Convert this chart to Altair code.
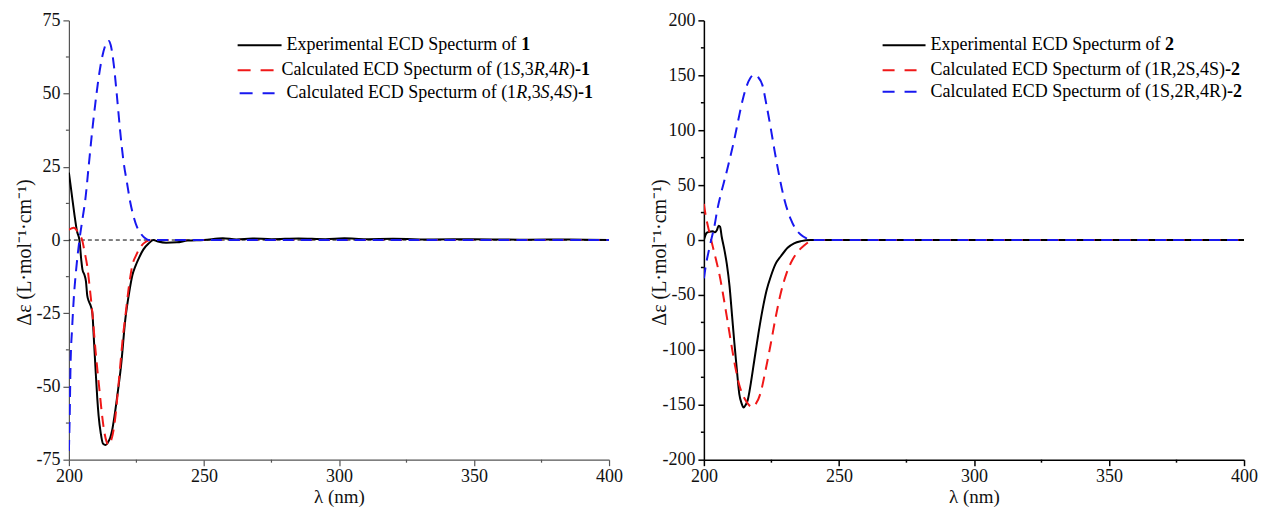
import altair as alt
import pandas as pd

FONT = "Liberation Serif"

# ---------------- Panel 1 data (compound 1) ----------------
wl1_exp = [200, 201, 202, 203, 203.9, 204.6, 205.0, 205.8, 206.3, 206.8, 207.4, 208.1, 208.7,
           209.2, 209.8, 210.5, 211.0, 211.8, 212.6, 213.6, 214.5, 215.3, 216.0, 216.9, 217.8,
           219.3, 220.9, 222.3, 223.5, 224.6, 226.0, 227.6, 229.5, 231.3, 233, 236, 240, 244,
           250, 257, 262, 268, 275, 285, 295, 302, 310, 320, 335, 350, 370, 385, 400]
val1_exp = [23, 16, 9, 3, 0, -7, -10, -12, -14, -19, -21, -22.5, -25,
            -33, -43, -54, -60, -66, -69.5, -70, -69, -67.5, -65, -60, -54,
            -43, -27, -18, -12, -9, -6, -3.2, -1.2, 0, -0.5, -0.9, -0.8, -0.2,
            0, 0.6, 0.2, 0.5, 0.3, 0.5, 0.3, 0.6, 0.3, 0.4, 0.2, 0.3, 0.1, 0.2, 0]

wl1_red = [200, 201, 201.8, 202.8, 203.8, 204.9, 205.8, 206.8, 207.8, 208.8, 209.6, 210.4,
           211.4, 212.3, 213.2, 214.0, 214.7, 215.4, 216.3, 217.2, 218.1, 219.0, 220.0,
           220.9, 222.2, 223.4, 225.0, 226.8, 228.5, 230, 250, 275, 300, 325, 350, 375, 400]
val1_red = [3.5, 4, 4.2, 3.5, 1.8, 0, -4, -9, -17, -26, -35, -43,
            -52, -60, -66, -69, -70, -69, -66, -60.5, -52, -43, -33,
            -26, -16, -9, -5, -2, -0.6, 0, 0, 0, 0, 0, 0, 0, 0]

wl1_blue = [200, 200.3, 200.6, 201.2, 201.8, 202.8, 203.9, 205, 206.1, 207.3, 208.6, 209.7,
            210.8, 212.0, 213.5, 214.2, 214.8, 215.5, 216.6, 217.8, 219.0, 220.2, 221.5, 222.7,
            223.9, 225.2, 226.4, 228, 229.5, 250, 275, 300, 325, 350, 375, 400]
val1_blue = [-72, -60, -43, -30, -20, -9, 0, 7, 14, 25, 37, 46,
             54, 61, 66.5, 67.8, 68, 66.5, 60, 49, 37, 27, 19.6, 13,
             8.2, 4.5, 2.5, 0.8, 0, 0, 0, 0, 0, 0, 0, 0]

# ---------------- Panel 2 data (compound 2) ----------------
wl2_exp = [200, 200.5, 201, 202, 203.3, 204.0, 204.8, 205.5, 206, 206.6, 207.6, 208.5, 209.5,
           210.4, 211.3, 212.2, 213.1, 214, 214.7, 215.5, 216.2, 217.4, 218.7, 220.2, 221.7,
           223.2, 224.8, 226.5, 228.5, 231, 233.4, 236, 239.5, 260, 280, 300, 330, 360, 400]
val2_exp = [0, 4, 6.5, 7.5, 8, 7, 9, 13, 12, 3, -9, -22, -42,
            -68, -94, -118, -140, -149, -152.5, -150, -146, -130, -109, -85, -63.6,
            -46, -33, -22, -14.8, -7, -3, -1, 0, 0, 0, 0, 0, 0, 0]

wl2_red = [200, 200.7, 201.5, 202.7, 203.6, 204.5, 205.8, 207.0, 208.5, 210.1, 211.5, 213,
           214.4, 216, 217.3, 218.0, 219, 220.9, 222.8, 224.8, 226.6, 228.5, 230.5, 232.8,
           235, 237.1, 239, 240.6, 260, 280, 300, 325, 350, 375, 400]
val2_red = [33, 22, 12.6, 0, -9, -18, -32, -48, -70, -94, -114, -131,
            -141, -148, -151.5, -152, -150, -140, -119, -94, -70, -48, -31, -18,
            -10, -5, -1.5, 0, 0, 0, 0, 0, 0, 0, 0]

wl2_blue = [200, 200.8, 201.8, 202.7, 203.9, 205, 206.4, 208, 209.6, 211.3, 212.8, 214.4,
            215.8, 217.2, 218.7, 220, 221.7, 223.1, 224.6, 226.2, 227.9, 229.9, 232.2, 234,
            235.8, 238, 240, 260, 280, 300, 325, 350, 375, 400]
val2_blue = [-35, -22, -10, 0, 12.6, 28, 43, 58, 74, 92, 110, 128,
             140, 147.5, 150.6, 148.5, 140.8, 124, 104, 81, 58.4, 36, 18.8, 10,
             5, 1.5, 0, 0, 0, 0, 0, 0, 0, 0]

x_major = [200, 250, 300, 350, 400]
x_minor = [225, 275, 325, 375]
y1_major = [-75, -50, -25, 0, 25, 50, 75]
y1_minor = [-62.5, -37.5, -12.5, 12.5, 37.5, 62.5]
y2_major = [-200, -150, -100, -50, 0, 50, 100, 150, 200]
y2_minor = [-175, -125, -75, -25, 25, 75, 125, 175]

X_TITLE = "λ (nm)"
Y_TITLE = "Δε (L·mol⁻¹·cm⁻¹)"

legend1 = [
    [("Experimental ECD Specturm of ", "n"), ("1", "b")],
    [("Calculated ECD Specturm of (1", "n"), ("S", "i"), (",3", "n"), ("R", "i"),
     (",4", "n"), ("R", "i"), (")", "n"), ("-1", "b")],
    [("Calculated ECD Specturm of (1", "n"), ("R", "i"), (",3", "n"), ("S", "i"),
     (",4", "n"), ("S", "i"), (")", "n"), ("-1", "b")],
]
legend2 = [
    [("Experimental ECD Specturm of ", "n"), ("2", "b")],
    [("Calculated ECD Specturm of (1R,2S,4S)", "n"), ("-2", "b")],
    [("Calculated ECD Specturm of (1S,2R,4R)", "n"), ("-2", "b")],
]

BLACK = "#000000"
RED = "#f01818"
BLUE = "#1818f0"
TXT = "#111111"
CURVE_DASH = [11, 7]
W, H = 541, 440

# Times / Liberation Serif advance widths (per 1000 em)
W_N = {' ': 250, '(': 333, ')': 333, ',': 250, '-': 333, 'A': 722, 'C': 667, 'D': 722,
       'E': 611, 'R': 667, 'S': 556, 'a': 444, 'c': 444, 'd': 500, 'e': 444, 'f': 333,
       'i': 278, 'l': 278, 'm': 778, 'n': 500, 'o': 500, 'p': 500, 'r': 333, 't': 278,
       'u': 500, 'x': 500}
W_I = {'S': 500, 'R': 611}
W_B = {'-': 333}


def text_width(txt, style, fs):
    tot = 0
    for ch in txt:
        if ch.isdigit():
            tot += 500
        elif style == "i":
            tot += W_I.get(ch, W_N.get(ch, 500))
        elif style == "b":
            tot += W_B.get(ch, W_N.get(ch, 500))
        else:
            tot += W_N.get(ch, 500)
    return tot * fs / 1000.0


def one():
    return pd.DataFrame({"a": [0]})


def legend_layers(rows, samples, text_x, row_y, fs=18):
    layers = []
    for segs, (color, dash, sx1, sx2), tx, ty in zip(rows, samples, text_x, row_y):
        kw = dict(color=color, strokeWidth=2)
        if dash:
            kw["strokeDash"] = dash
        layers.append(alt.Chart(one()).mark_rule(**kw).encode(
            x=alt.value(sx1), x2=alt.value(sx2), y=alt.value(ty)))
        x = tx
        for txt, style in segs:
            mk = dict(text=txt, font=FONT, fontSize=fs, align="left", baseline="middle", color="#000")
            if style == "i":
                mk["fontStyle"] = "italic"
            if style == "b":
                mk["fontWeight"] = "bold"
            layers.append(alt.Chart(one()).mark_text(**mk).encode(
                x=alt.value(x), y=alt.value(ty)))
            x += text_width(txt, style, fs)
    return layers


def panel(series, ydom, ymaj, ymin, axcolor, axwidth, zero_rule, legend, samples, text_x, row_y):
    xs = alt.Scale(domain=[200, 400], nice=False, zero=False)
    ys = alt.Scale(domain=ydom, nice=False, zero=False)
    ax_x = alt.Axis(values=x_major, labelExpr="'' + datum.value", title=X_TITLE,
                    ticks=True, tickSize=6, grid=False, labelFlush=False, labelOverlap=False,
                    labelFont=FONT, labelFontSize=18, labelColor=TXT, labelPadding=2,
                    titleFont=FONT, titleFontSize=19, titleFontWeight="normal", titleColor=TXT,
                    domainColor=axcolor, tickColor=axcolor, domainWidth=axwidth, tickWidth=axwidth,
                    titleBaseline="top", titleY=28)
    ax_y = alt.Axis(values=ymaj, labelExpr="'' + datum.value", title=Y_TITLE,
                    ticks=True, tickSize=6, grid=False, labelFlush=False, labelOverlap=False,
                    labelFont=FONT, labelFontSize=18, labelColor=TXT, labelPadding=3,
                    titleFont=FONT, titleFontSize=20, titleFontWeight="normal", titleColor=TXT,
                    domainColor=axcolor, tickColor=axcolor, domainWidth=axwidth, tickWidth=axwidth,
                    titleX=-34, titleY=232)
    layers = []
    if zero_rule:
        layers.append(alt.Chart(pd.DataFrame({"z": [0]})).mark_rule(
            color="#000", strokeWidth=1, strokeDash=[4, 3]).encode(
            y=alt.Y("z:Q", scale=ys, axis=ax_y)))
    for wl, val, color, dash in series:
        kw = dict(color=color, strokeWidth=2, interpolate="monotone", clip=True)
        if dash:
            kw["strokeDash"] = dash
        df = pd.DataFrame({"wl": wl, "val": val})
        layers.append(alt.Chart(df).mark_line(**kw).encode(
            x=alt.X("wl:Q", scale=xs, axis=ax_x),
            y=alt.Y("val:Q", scale=ys, axis=ax_y)))
    # minor ticks, drawn through the same scales
    layers.append(alt.Chart(pd.DataFrame({"t": ymin})).mark_rule(
        color=axcolor, strokeWidth=axwidth).encode(
        y=alt.Y("t:Q", scale=ys, axis=ax_y), x=alt.value(0), x2=alt.value(-3)))
    layers.append(alt.Chart(pd.DataFrame({"t": x_minor})).mark_rule(
        color=axcolor, strokeWidth=axwidth).encode(
        x=alt.X("t:Q", scale=xs, axis=ax_x), y=alt.value(H), y2=alt.value(H + 3)))
    layers += legend_layers(legend, samples, text_x, row_y)
    return alt.layer(*layers).properties(width=W, height=H)


left = panel(
    [(wl1_exp, val1_exp, BLACK, None), (wl1_red, val1_red, RED, CURVE_DASH),
     (wl1_blue, val1_blue, BLUE, CURVE_DASH)],
    [-75, 75], y1_major, y1_minor, "#555", 1.2, True, legend1,
    [(BLACK, None, 169, 213), (RED, [13, 10], 169, 206), (BLUE, [13, 10], 171, 206)],
    [218, 213, 218], [25, 50, 73])

right = panel(
    [(wl2_exp, val2_exp, BLACK, None), (wl2_red, val2_red, RED, CURVE_DASH),
     (wl2_blue, val2_blue, BLUE, CURVE_DASH)],
    [-200, 200], y2_major, y2_minor, "#000", 1.5, False, legend2,
    [(BLACK, None, 179, 222), (RED, [12, 10], 179, 213), (BLUE, [12, 10], 179, 213)],
    [227, 227, 227], [25, 50, 71.5])

chart = alt.hconcat(left, right, spacing=27).properties(
    padding={"left": 7, "top": 3, "right": 0, "bottom": 0},
    background="white",
).configure(font=FONT).configure_view(stroke=None).configure_axis(
    labelFont=FONT, titleFont=FONT, labelFontSize=18, tickSize=6, ticks=True,
)

chart.save("out.html", embed_options={"renderer": "svg", "actions": False})
